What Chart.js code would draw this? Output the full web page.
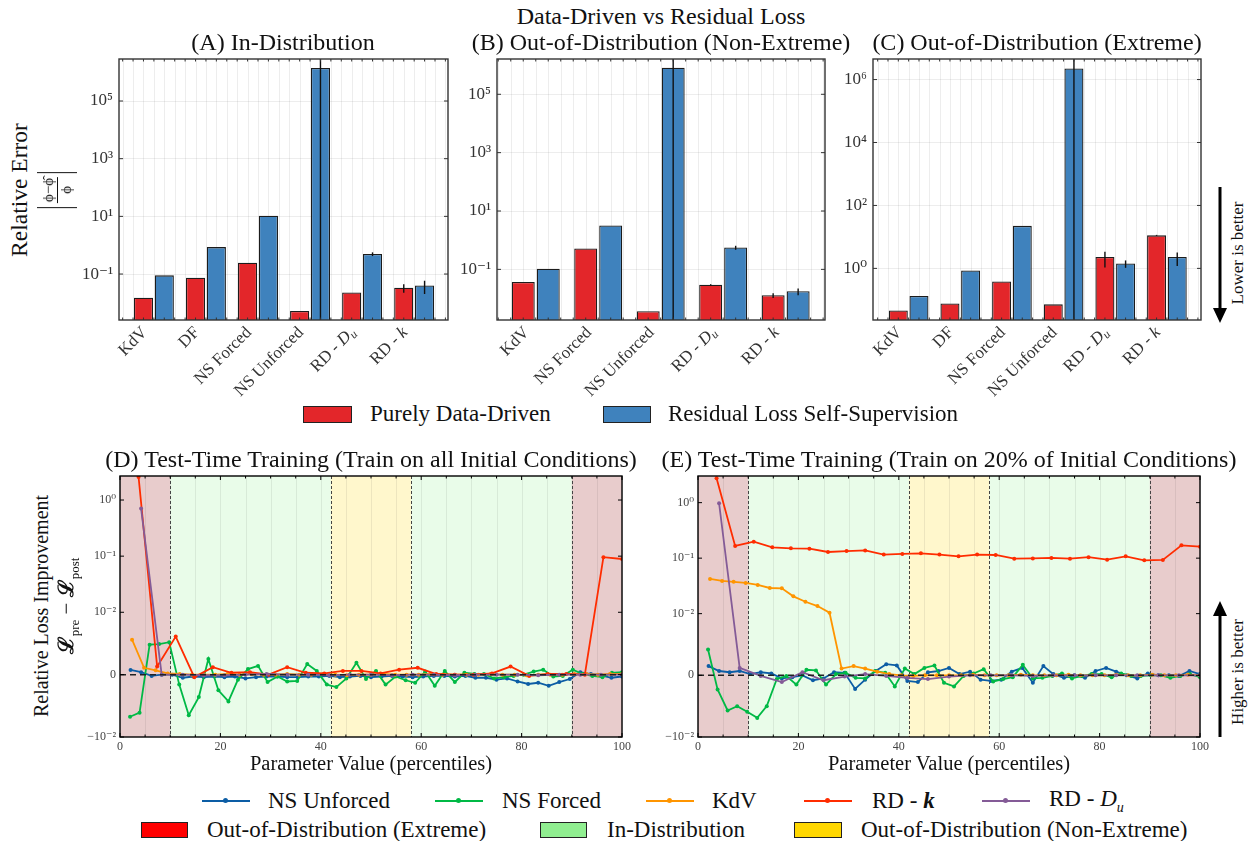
<!DOCTYPE html>
<html>
<head>
<meta charset="utf-8">
<script src="https://cdn.jsdelivr.net/npm/chart.js"></script>
<style>
body { margin: 0; background: #fff; }
#fig { position: relative; width: 1250px; height: 841px; overflow: hidden; font-family: 'Liberation Serif', serif; color: #111; }
#fig canvas { position: absolute; }
.t { position: absolute; white-space: nowrap; transform: translate(-50%, -50%); }
.r { transform: translate(-50%, -50%) rotate(-90deg); }
.l { position: absolute; white-space: nowrap; transform: translateY(-50%); font-size: 23px; }
.box { position: absolute; border: 1.3px solid #222; box-sizing: border-box; }
.hl { position: absolute; height: 2px; width: 48px; }
.hl b { position: absolute; left: 21px; top: -2px; width: 5px; height: 5px; border-radius: 50%; background: inherit; }
.frac { display: flex; align-items: center; border-left: 1.5px solid #111; border-right: 1.5px solid #111; height: 40px; padding: 0 4px; }
.frac span { display: block; text-align: center; font-size: 15px; line-height: 16px; }
.frac .num { border-bottom: 1px solid #111; padding: 0 1px 1px; }
.ttl { font-size: 24px; }
</style>
</head>
<body>
<div id="fig">
  <canvas id="cA" width="403" height="350" style="left:55px;top:50px"></canvas>
  <canvas id="cB" width="405" height="350" style="left:430px;top:50px"></canvas>
  <canvas id="cC" width="401" height="350" style="left:810px;top:50px"></canvas>
  <canvas id="cD" width="552" height="285" style="left:80px;top:470px"></canvas>
  <canvas id="cE" width="552" height="285" style="left:658px;top:470px"></canvas>

  <div class="t ttl" style="left:661px;top:16px">Data-Driven vs Residual Loss</div>
  <div class="t ttl" style="left:283px;top:42px">(A) In-Distribution</div>
  <div class="t ttl" style="left:661px;top:42px">(B) Out-of-Distribution (Non-Extreme)</div>
  <div class="t ttl" style="left:1037px;top:42px">(C) Out-of-Distribution (Extreme)</div>
  <div class="t r" style="left:19px;top:190px;font-size:23.5px">Relative Error</div>
  <div class="t r" style="left:57px;top:190px">
    <div class="frac"><div><span class="num">ϕ−ϕ̂</span><span>ϕ</span></div></div>
  </div>
  <div class="t r" style="left:1238px;top:253px;font-size:17px">Lower is better</div>
  <div class="t r" style="left:1238px;top:672px;font-size:17px">Higher is better</div>

  <div class="box" style="left:303px;top:406px;width:49px;height:17px;background:#e3262a"></div>
  <div class="l" style="left:370px;top:414px">Purely Data-Driven</div>
  <div class="box" style="left:603px;top:406px;width:48px;height:17px;background:#3f82bd"></div>
  <div class="l" style="left:668px;top:414px">Residual Loss Self-Supervision</div>

  <div class="t ttl" style="left:371px;top:459px">(D) Test-Time Training (Train on all Initial Conditions)</div>
  <div class="t ttl" style="left:949px;top:459px">(E) Test-Time Training (Train on 20% of Initial Conditions)</div>
  <div class="t" style="left:371px;top:763px;font-size:20.5px">Parameter Value (percentiles)</div>
  <div class="t" style="left:949px;top:763px;font-size:20.5px">Parameter Value (percentiles)</div>
  <div class="t r" style="left:41px;top:606px;font-size:20px">Relative Loss Improvement</div>
  <div class="t r" style="left:67px;top:606px;font-size:21px"><b>ℒ</b><sub style="font-size:13px">pre</sub> − <b>ℒ</b><sub style="font-size:13px">post</sub></div>

  <div class="hl" style="left:202px;top:800px;background:#0C5DA5"><b></b></div>
  <div class="l" style="left:268px;top:801px">NS Unforced</div>
  <div class="hl" style="left:435px;top:800px;background:#00B945"><b></b></div>
  <div class="l" style="left:502px;top:801px">NS Forced</div>
  <div class="hl" style="left:646px;top:800px;background:#FF9500"><b></b></div>
  <div class="l" style="left:712px;top:801px">KdV</div>
  <div class="hl" style="left:804px;top:800px;background:#FF2C00"><b></b></div>
  <div class="l" style="left:872px;top:801px">RD - <i><b>k</b></i></div>
  <div class="hl" style="left:982px;top:800px;background:#845B97"><b></b></div>
  <div class="l" style="left:1049px;top:801px">RD - <i>D</i><sub style="font-size:14px"><i>u</i></sub></div>

  <div class="box" style="left:141px;top:822px;width:47px;height:16px;background:#ff0000"></div>
  <div class="l" style="left:207px;top:830px">Out-of-Distribution (Extreme)</div>
  <div class="box" style="left:540px;top:822px;width:47px;height:16px;background:#90ee90"></div>
  <div class="l" style="left:607px;top:830px">In-Distribution</div>
  <div class="box" style="left:794px;top:822px;width:48px;height:16px;background:#ffd700"></div>
  <div class="l" style="left:861px;top:830px">Out-of-Distribution (Non-Extreme)</div>

  <svg width="1250" height="841" style="position:absolute;left:0;top:0;pointer-events:none">
    <line x1="1220" y1="187" x2="1220" y2="310" stroke="#000" stroke-width="3"/>
    <polygon points="1213,308 1227,308 1220,323" fill="#000"/>
    <line x1="1220" y1="737" x2="1220" y2="614" stroke="#000" stroke-width="3"/>
    <polygon points="1213,616 1227,616 1220,601" fill="#000"/>
  </svg>
</div>

<script>
// ---------- top row: relative error (log scale) ----------
const catsA = ['KdV', 'DF', 'NS Forced', 'NS Unforced', 'RD - D_u', 'RD - k'];
const catsB = ['KdV', 'NS Forced', 'NS Unforced', 'RD - D_u', 'RD - k'];
const catsC = catsA;

const redA = [0.015, 0.074, 0.245, 0.0052, 0.023, 0.0335];
const blueA = [0.09, 0.86, 10.5, 1.4e6, 0.5, 0.04];
const redALo = [null, null, null, null, null, 0.0225];
const redAHi = [null, null, null, null, null, 0.044];
const blueALo = [null, null, null, 1e-9, 0.42, 0.0203];
const blueAHi = [null, null, null, 1e12, 0.565, 0.0586];

const redB = [0.0367, 0.524, 0.0037, 0.0297, 0.0129];
const blueB = [0.105, 3.21, 8.1e5, 0.566, 0.0177];
const redBLo = [null, null, null, 0.028, 0.0104];
const redBHi = [null, null, null, 0.031, 0.0151];
const blueBLo = [null, null, 1e-9, 0.469, 0.0129];
const blueBHi = [null, null, 1e12, 0.643, 0.0223];

const redC = [0.046, 0.077, 0.386, 0.072, 2.29, 11.2];
const blueC = [0.132, 0.86, 22.5, 2.24e6, 1.44, 2.29];
const redCLo = [null, null, null, null, 1.07, 10.8];
const redCHi = [null, null, null, null, 3.37, 11.6];
const blueCLo = [null, null, null, 1e-9, 1.04, 1.2];
const blueCHi = [null, null, null, 1e12, 1.79, 3.2];

const oddDecades = [0.1, 10, 1000, 1e5];
const oddDecadeLabels = ['10⁻¹', '10¹', '10³', '10⁵'];
const evenDecades = [1, 100, 1e4, 1e6];
const evenDecadeLabels = ['10⁰', '10²', '10⁴', '10⁶'];

// ---------- bottom row: test-time training (symlog) ----------
const xNSU = [2.1, 4.2, 6.3, 8.3, 10.4, 12.5, 14.6, 16.7, 18.8, 20.8, 22.9, 25.0, 27.1, 29.2, 31.3, 33.3,
  35.4, 37.5, 39.6, 41.7, 43.8, 45.8, 47.9, 50.0, 52.1, 54.2, 56.3, 58.3, 60.4, 62.5, 64.6, 66.7,
  68.8, 70.8, 72.9, 75.0, 77.1, 79.2, 81.3, 83.3, 85.4, 87.5, 89.6, 91.7, 93.8, 95.8, 97.9, 100];
const xNSF = [2.0, 3.9, 5.9, 7.8, 9.8, 11.8, 13.7, 15.7, 17.6, 19.6, 21.6, 23.5, 25.5, 27.5, 29.4, 31.4, 33.3,
  35.3, 37.3, 39.2, 41.2, 43.1, 45.1, 47.1, 49.0, 51.0, 52.9, 54.9, 56.9, 58.8, 60.8, 62.7, 64.7, 66.7,
  68.6, 70.6, 72.5, 74.5, 76.5, 78.4, 80.4, 82.4, 84.3, 86.3, 88.2, 90.2, 92.2, 94.1, 96.1, 98.0, 100];
const xKdV = [2.4, 4.8, 7.1, 9.5, 11.9, 14.3, 16.7, 19.0, 21.4, 23.8, 26.2, 28.6, 31.0, 33.3, 35.7, 38.1,
  40.5, 42.9, 45.2, 47.6, 50.0, 52.4, 54.8, 57.1, 59.5, 61.9, 64.3, 66.7, 69.0, 71.4, 73.8, 76.2,
  78.6, 81.0, 83.3, 85.7, 88.1, 90.5, 92.9, 95.2, 97.6, 100];
const xRDk = [3.7, 7.4, 11.1, 14.8, 18.5, 22.2, 25.9, 29.6, 33.3, 37.0, 40.7, 44.4, 48.1, 51.9, 55.6,
  59.3, 63.0, 66.7, 70.4, 74.1, 77.8, 81.5, 85.2, 88.9, 92.6, 96.3, 100];
const xRDDu = [4.2, 8.3, 12.5, 16.7, 20.8, 25.0, 29.2, 33.3, 37.5, 41.7, 45.8, 50.0, 54.2, 58.3, 62.5,
  66.7, 70.8, 75.0, 79.2, 83.3, 87.5, 91.7, 95.8, 100];

// (D) train on all initial conditions
const dNSU = [0.00075, 0.0004, -0.0002, 0.0, 0.0, -0.0005, -0.0003, -0.0004, -0.0003, -0.0004,
  -0.0003, -0.0006, -0.0004, -0.0003, -0.0003, -0.0004, -0.0004, -0.0003, -0.0003, -0.0002,
  -0.0004, -0.0003, -0.0002, -0.0004, -0.0003, -0.0002, -0.0003, -0.0004, -0.0003, -0.0002,
  -0.0002, -0.0003, -0.0002, -0.0005, -0.0005, -0.0008, -0.0006, -0.0011, -0.0015, -0.0013,
  -0.0018, -0.0012, -0.0007, 0.0004, 0.0001, -0.0001, -0.0005, -0.0003];
const dNSF = [-0.00675, -0.0061, 0.0048, 0.0049, 0.0052, -0.0016, -0.0065, -0.0036, 0.0025, -0.0025,
  -0.0043, -0.0008, 0.0009, 0.0014, -0.0012, -0.0003, -0.0011, -0.0010, 0.0017, 0.0006,
  -0.0016, -0.0020, -0.0006, 0.0019, -0.0007, 0.0006, -0.0016, -0.0003, -0.0009, -0.0013,
  0.0005, -0.0018, 0.0006, -0.0012, 0.0003, 0.0001, 0.0001, -0.0006, -0.0004, -0.0002,
  0.0, 0.0005, 0.0008, -0.0003, -0.0002, 0.0008, 0.0001, -0.0002, -0.0004, 0.0003, 0.0004];
const dKdV = [0.0056, 0.0011, 0.0007, 0.0002, 0.0001, 0.0, 0.0, 0.0, 0.0001, 0.0,
  0.0001, 0.0, 0.0, 0.0001, 0.0, 0.0, 0.0001, 0.0, -0.0001, 0.0,
  0.0, 0.0001, 0.0, 0.0, 0.0, 0.0001, 0.0, 0.0, 0.0, 0.0,
  0.0001, 0.0, 0.0, -0.0001, 0.0, 0.0, 0.0, 0.0001, 0.0001, 0.0,
  0.0001, 0.0001];
const dRDk = [2.57, 0.0013, 0.0061, -0.0004, 0.0012, 0.0003, 0.0004, 0.0, 0.0012, 0.0003,
  0.0002, 0.0006, 0.0006, 0.0002, 0.0008, 0.0011, 0.0001, 0.0, 0.0, 0.0002,
  0.0013, -0.0002, 0.0001, 0.0001, 0.0, 0.096, 0.089];
const dRDDu = [0.71, 0.0, 0.0, -0.0001, -0.0001, 0.0, 0.0001, 0.0, 0.0, -0.0001,
  0.0, 0.0, -0.0001, 0.0, 0.0, -0.0001, 0.0, 0.0, 0.0, -0.0001, 0.0, 0.0, 0.0, 0.0];

// (E) train on 20% of initial conditions
const eNSU = [0.0015, 0.0007, 0.0005, 0.0007, 0.0002, 0.0005, 0.0003, -0.0005, -0.0003, 0.0,
  -0.0008, -0.0005, 0.0005, 0.0004, -0.0022, -0.0007, 0.0007, 0.0018, 0.0016, -0.0009,
  -0.0011, 0.0005, 0.0007, 0.0012, 0.0002, 0.0006, -0.0007, -0.0009, -0.0007, 0.0006,
  0.0012, -0.0012, 0.0015, 0.0002, -0.0004, 0.0, -0.0004, 0.0007, 0.0012, 0.0006,
  0.0, -0.0005, 0.0003, 0.0, 0.0, -0.0001, 0.0007, 0.0002];
const eNSF = [0.0042, -0.0023, -0.0057, -0.0050, -0.0059, -0.0069, -0.0050, -0.0006, -0.0001, -0.0015,
  0.0009, 0.0008, -0.0015, 0.0002, 0.0004, -0.0004, -0.0005, 0.0007, 0.0004, -0.0018,
  0.0011, 0.0002, 0.0012, 0.0016, -0.0012, -0.0018, -0.0001, 0.0003, 0.0010, -0.0010,
  -0.0006, -0.0003, 0.0017, -0.0005, -0.0004, -0.0001, 0.0003, -0.0005, -0.0001, 0.0002,
  0.0002, -0.0003, 0.0003, -0.0001, -0.0001, 0.0, 0.0, -0.0004, -0.0001, 0.0002, -0.0003];
const eKdV = [0.0422, 0.0388, 0.0374, 0.0358, 0.0329, 0.0290, 0.0286, 0.0205, 0.0164, 0.0137,
  0.0104, 0.0011, 0.0015, 0.0011, 0.0006, 0.0002, 0.0, -0.0001, 0.0, 0.0,
  0.0, 0.0, 0.0001, 0.0, 0.0, 0.0, 0.0001, 0.0, 0.0, 0.0,
  0.0001, 0.0, 0.0, 0.0, 0.0001, 0.0, 0.0, 0.0001, 0.0, 0.0,
  0.0001, 0.0];
const eRDk = [2.75, 0.166, 0.198, 0.157, 0.150, 0.148, 0.129, 0.134, 0.138, 0.116,
  0.119, 0.122, 0.116, 0.108, 0.116, 0.114, 0.098, 0.099, 0.101, 0.098,
  0.104, 0.094, 0.108, 0.0915, 0.093, 0.170, 0.161];
const eRDDu = [0.975, 0.0012, -0.0001, -0.0011, 0.0005, -0.0008, -0.0002, 0.0002, -0.0001, -0.0004,
  -0.0006, -0.0002, 0.0, 0.0, 0.0, -0.0001, 0.0, 0.0, 0.0, 0.0, 0.0, 0.0, 0.0, 0.0];

const symTicks = [-0.01, 0, 0.01, 0.1, 1];
const symTickLabels = ['−10⁻²', '0', '10⁻²', '10⁻¹', '10⁰'];
const pctTicks = [0, 20, 40, 60, 80, 100];

// shaded parameter regions
const spanStart = [0, 10, 42, 58, 90];
const spanEnd = [10, 42, 58, 90, 100];
const spanKind = ['ood', 'in', 'oodne', 'in', 'ood'];

const RED = '#e3262a', BLUE = '#3f82bd', EDGE = '#1c1c1c';
const spanFill = { ood: 'rgba(139,0,0,0.2)', in: 'rgba(144,238,144,0.2)', oodne: 'rgba(255,215,0,0.2)' };
const lineColors = ['#0C5DA5', '#00B945', '#FF9500', '#FF2C00', '#845B97'];
const lineNames = ['NS Unforced', 'NS Forced', 'KdV', 'RD - k', 'RD - Du'];

const FONT = "'Liberation Serif', 'DejaVu Serif', serif";
Chart.defaults.font.family = FONT;
Chart.defaults.color = '#333';

// symmetric log scale (linthresh 1e-2, linscale 1), like matplotlib's symlog
const LIN = 0.01, LINADJ = 1 / (1 - 1 / 10);
function symT(v) {
    const a = Math.abs(v);
    return a <= LIN ? v / LIN * LINADJ : Math.sign(v) * (LINADJ + Math.log10(a / LIN));
}
function symInv(t) {
    const a = Math.abs(t);
    return a <= LINADJ ? t / LINADJ * LIN : Math.sign(t) * LIN * Math.pow(10, a - LINADJ);
}
class SymlogScale extends Chart.LinearScale {
    buildTicks() { return []; }
    configure() {
        super.configure();
        this._t0 = symT(this.min);
        this._t1 = symT(this.max);
    }
    getPixelForValue(v) {
        return this.getPixelForDecimal((symT(v) - this._t0) / (this._t1 - this._t0));
    }
    getValueForPixel(p) {
        return symInv(this._t0 + this.getDecimalForPixel(p) * (this._t1 - this._t0));
    }
}
SymlogScale.id = 'symlog';
SymlogScale.defaults = {};
Chart.register(SymlogScale);

// force axis box sizes so plot areas line up with the reference
const fixY = w => s => { s.width = w; s.paddingTop = 0; s.paddingBottom = 0; };
const fixX = h => s => { s.height = h; s.paddingLeft = 0; s.paddingRight = 0; };

function vline(ctx, x, y0, y1) { ctx.beginPath(); ctx.moveTo(x, y0); ctx.lineTo(x, y1); ctx.stroke(); }
function hline(ctx, y, x0, x1) { ctx.beginPath(); ctx.moveTo(x0, y); ctx.lineTo(x1, y); ctx.stroke(); }

// rotated category label, right end anchored like matplotlib ha='right'; "RD - D_u" gets italic D and subscript u
function catLabel(ctx, label, x, y) {
    const m = label.match(/^(RD - )(\w)(?:_(\w))?$/);
    const parts = m
        ? [[m[1], '17px ' + FONT, 0], [m[2], 'italic 17px ' + FONT, 0]].concat(m[3] ? [[m[3], 'italic 12px ' + FONT, 4]] : [])
        : [[label, '17px ' + FONT, 0]];
    ctx.save();
    ctx.translate(x, y);
    ctx.rotate(-Math.PI / 4);
    ctx.textBaseline = 'middle';
    ctx.textAlign = 'left';
    ctx.fillStyle = '#333';
    let total = 0;
    parts.forEach(p => { ctx.font = p[1]; total += ctx.measureText(p[0]).width; });
    let cx = -total;
    parts.forEach(p => { ctx.font = p[1]; ctx.fillText(p[0], cx, p[2]); cx += ctx.measureText(p[0]).width; });
    ctx.restore();
}

// background spans, minor grid, error bars, zero line, frame and inward ticks
const decor = {
    id: 'decor',
    beforeDraw(chart, args, o) {
        const { ctx, chartArea: a, scales: { x } } = chart;
        ctx.save();
        if (o.spans) {
            spanStart.forEach((s, i) => {
                const x0 = x.getPixelForValue(s), x1 = x.getPixelForValue(spanEnd[i]);
                ctx.fillStyle = spanFill[spanKind[i]];
                ctx.fillRect(x0, a.top, x1 - x0, a.height);
            });
        }
        ctx.strokeStyle = o.gridColor;
        ctx.lineWidth = 1;
        for (let k = Math.ceil(x.min / o.minor - 1e-6); k * o.minor <= x.max + 1e-6; k++) {
            vline(ctx, Math.round(x.getPixelForValue(k * o.minor)) + 0.5, a.top, a.bottom);
        }
        if (o.spans) {
            ctx.strokeStyle = '#444';
            ctx.setLineDash([3, 2]);
            spanStart.slice(1).forEach(s => vline(ctx, Math.round(x.getPixelForValue(s)) + 0.5, a.top, a.bottom));
        }
        ctx.restore();
    },
    afterDatasetsDraw(chart, args, o) {
        const { ctx, chartArea: a, scales: { y } } = chart;
        ctx.save();
        ctx.beginPath();
        ctx.rect(a.left, a.top, a.width, a.height);
        ctx.clip();
        chart.data.datasets.forEach((ds, di) => {
            if (!ds.errLo) return;
            const meta = chart.getDatasetMeta(di);
            ds.errLo.forEach((lo, i) => {
                if (lo == null) return;
                ctx.strokeStyle = '#111';
                ctx.lineWidth = 1.4;
                vline(ctx, meta.data[i].x, y.getPixelForValue(lo), y.getPixelForValue(ds.errHi[i]));
            });
        });
        if (o.zero) {
            ctx.strokeStyle = '#222';
            ctx.lineWidth = 1.5;
            ctx.setLineDash([6, 4]);
            hline(ctx, y.getPixelForValue(0), a.left, a.right);
        }
        ctx.restore();
    },
    afterDraw(chart, args, o) {
        const { ctx, chartArea: a, scales: { x, y } } = chart;
        ctx.save();
        ctx.strokeStyle = o.frame;
        ctx.lineWidth = 1;
        y.ticks.forEach(t => {
            const py = y.getPixelForValue(t.value);
            hline(ctx, py, a.left, a.left + 4);
            hline(ctx, py, a.right - 4, a.right);
        });
        for (let k = Math.ceil(x.min / o.minor - 1e-6); k * o.minor <= x.max + 1e-6; k++) {
            const v = k * o.minor;
            const len = o.major && Math.abs(v / o.major - Math.round(v / o.major)) < 1e-6 ? 4 : 2.5;
            const px = x.getPixelForValue(v);
            vline(ctx, px, a.bottom, a.bottom - len);
            vline(ctx, px, a.top, a.top + len);
        }
        ctx.lineWidth = 1.4;
        ctx.strokeRect(a.left, a.top, a.width, a.height);
        ctx.restore();
        if (o.cats) {
            x.ticks.forEach(t => catLabel(ctx, o.cats[t.value], x.getPixelForValue(t.value) - 9, a.bottom + 10));
        }
    }
};

function barPanel(id, cats, red, blue, redLo, redHi, blueLo, blueHi, yMin, yMax, yTicks, yLabels, xMin, xMax, yAxisW) {
    const common = { borderColor: EDGE, borderWidth: 1.3, categoryPercentage: 0.8, barPercentage: 0.92 };
    return new Chart(document.getElementById(id), {
        type: 'bar',
        data: {
            datasets: [
                Object.assign({ label: 'Purely Data-Driven', data: red.map((v, i) => ({ x: i, y: v })),
                    backgroundColor: RED, errLo: redLo, errHi: redHi }, common),
                Object.assign({ label: 'Residual Loss Self-Supervision', data: blue.map((v, i) => ({ x: i, y: v })),
                    backgroundColor: BLUE, errLo: blueLo, errHi: blueHi }, common)
            ]
        },
        options: {
            responsive: false,
            animation: false,
            events: [],
            layout: { padding: { top: 9, right: 10, left: 0, bottom: 0 } },
            plugins: {
                legend: { display: false },
                tooltip: { enabled: false },
                decor: { minor: 0.2, major: 0, spans: false, zero: false, gridColor: 'rgba(0,0,0,0.07)', frame: '#333', cats: cats }
            },
            scales: {
                x: {
                    type: 'linear', min: xMin, max: xMax, offset: false,
                    grid: { display: false, drawTicks: false, offset: false }, border: { display: false },
                    afterBuildTicks: s => { s.ticks = cats.map((c, i) => ({ value: i })); },
                    ticks: { display: false },
                    afterFit: fixX(80)
                },
                y: {
                    type: 'logarithmic', min: yMin, max: yMax,
                    afterBuildTicks: s => { s.ticks = yTicks.map(v => ({ value: v })); },
                    ticks: { font: { size: 17 }, color: '#333', padding: 6, callback: (v, i) => yLabels[i] },
                    grid: { color: 'rgba(0,0,0,0.07)', drawTicks: false }, border: { display: false },
                    afterFit: fixY(yAxisW)
                }
            }
        },
        plugins: [decor]
    });
}

function linePanel(id, xs, ys, yMax) {
    return new Chart(document.getElementById(id), {
        type: 'line',
        data: {
            datasets: ys.map((vals, k) => ({
                label: lineNames[k],
                data: vals.map((v, i) => ({ x: xs[k][i], y: v })),
                borderColor: lineColors[k], backgroundColor: lineColors[k],
                borderWidth: 1.8, pointRadius: 2, pointBorderWidth: 0, tension: 0,
                order: 5 - k
            }))
        },
        options: {
            responsive: false,
            animation: false,
            events: [],
            layout: { padding: { top: 6, right: 10, left: 0, bottom: 0 } },
            plugins: {
                legend: { display: false },
                tooltip: { enabled: false },
                decor: { minor: 5, major: 20, spans: true, zero: true, gridColor: 'rgba(0,0,0,0.07)', frame: '#000' }
            },
            scales: {
                x: {
                    type: 'linear', min: 0, max: 100,
                    grid: { display: false, drawTicks: false }, border: { display: false },
                    afterBuildTicks: s => { s.ticks = pctTicks.map(v => ({ value: v })); },
                    ticks: { maxRotation: 0, padding: 3, font: { size: 12 }, color: '#444' },
                    afterFit: fixX(18)
                },
                y: {
                    type: 'symlog', min: -0.01, max: yMax,
                    afterBuildTicks: s => { s.ticks = symTicks.map(v => ({ value: v })); },
                    ticks: { font: { size: 12 }, color: '#444', padding: 4, callback: (v, i) => symTickLabels[i] },
                    grid: { display: false, drawTicks: false }, border: { display: false },
                    afterFit: fixY(40)
                }
            }
        },
        plugins: [decor]
    });
}

barPanel('cA', catsA, redA, blueA, redALo, redAHi, blueALo, blueAHi, 0.00255, 2.86e6, oddDecades, oddDecadeLabels, -0.67, 5.65, 64);
barPanel('cB', catsB, redB, blueB, redBLo, redBHi, blueBLo, blueBHi, 0.00184, 1.62e6, oddDecades, oddDecadeLabels, -0.62, 4.63, 67);
barPanel('cC', catsC, redC, blueC, redCLo, redCHi, blueCLo, blueCHi, 0.0229, 4.5e6, evenDecades, evenDecadeLabels, -0.69, 5.66, 63);

const xsAll = [xNSU, xNSF, xKdV, xRDk, xRDDu];
linePanel('cD', xsAll, [dNSU, dNSF, dKdV, dRDk, dRDDu], 2.68);
linePanel('cE', xsAll, [eNSU, eNSF, eKdV, eRDk, eRDDu], 3.02);
</script>
</body>
</html>
